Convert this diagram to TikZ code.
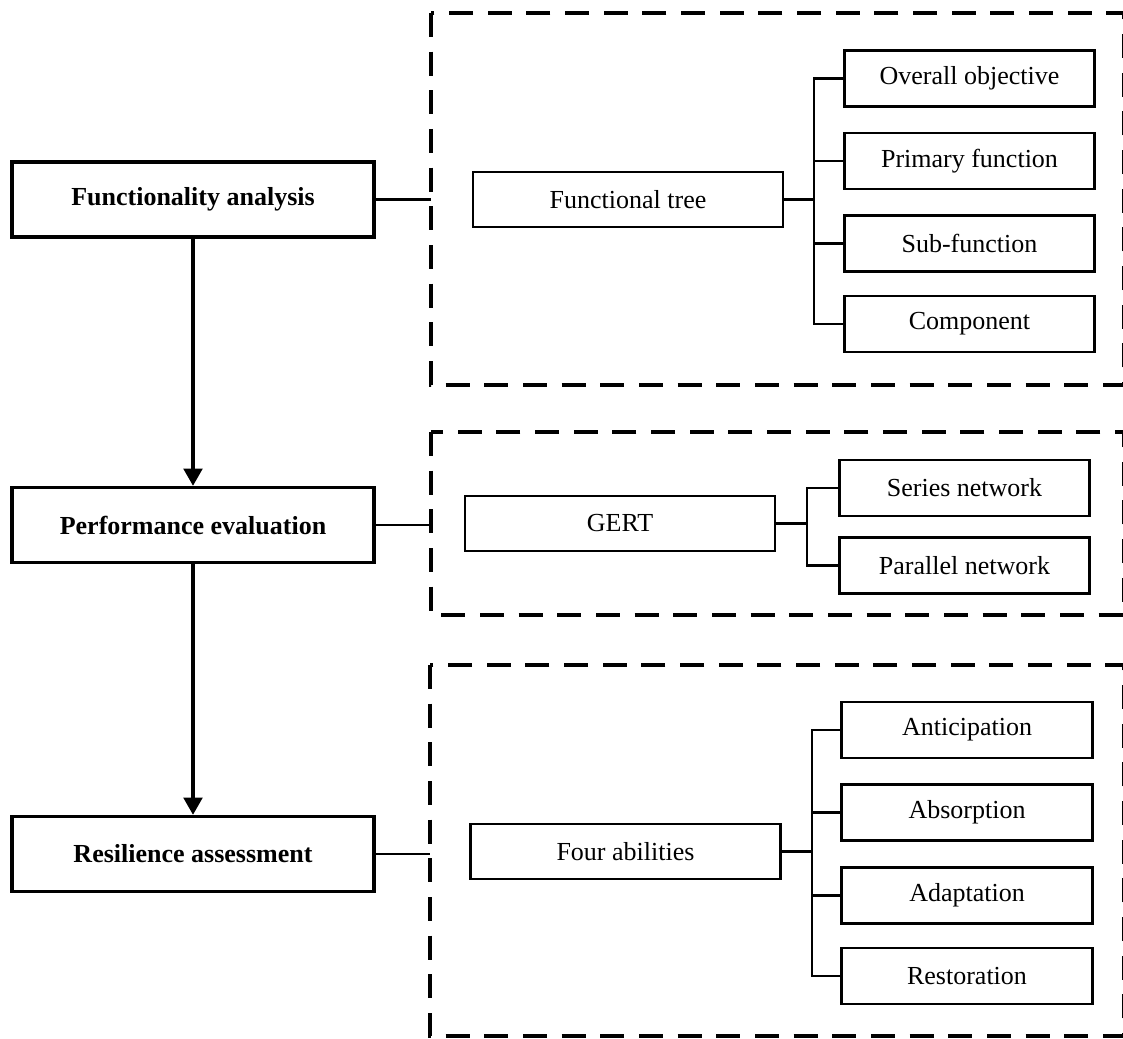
\documentclass[tikz,border=0pt]{standalone}
\usepackage{fontspec}
\setmainfont{Liberation Serif}
\usetikzlibrary{arrows.meta}
\begin{document}
\begin{tikzpicture}[x=0.75pt,y=-0.75pt,
  mainbox/.style={draw,line width=2.5pt,minimum width=271.5pt,minimum height=56.25pt,font=\fontsize{19.5}{22}\selectfont\bfseries,inner sep=0pt},
  midbox/.style={draw,line width=2.2pt,minimum width=232.5pt,minimum height=41.25pt,font=\fontsize{19.5}{22}\selectfont,inner sep=0pt},
  leafbox/.style={draw,line width=2.2pt,minimum width=188pt,minimum height=42pt,font=\fontsize{19.5}{22}\selectfont,inner sep=0pt},
  group/.style={draw,line width=2.4pt,dash pattern=on 18pt off 11pt},
  link/.style={line width=2.2pt},
  flow/.style={line width=2.6pt,-{Triangle[length=13pt,width=14pt]}}]
\useasboundingbox (0,0) rectangle (1123,1038);
\fill[white] (0,0) rectangle (1123,1038);

% dashed groups
\draw[group] (431,13) rectangle (1124,385);
\draw[group] (431,432) rectangle (1124,615);
\draw[group] (430,665) rectangle (1124,1036);

% main column
\node[mainbox] (fa) at (193,199.5) {Functionality analysis};
\node[mainbox] (pe) at (193,525) {Performance evaluation};
\node[mainbox] (ra) at (193,854) {Resilience assessment};
\draw[flow] (fa.south) -- (pe.north);
\draw[flow] (pe.south) -- (ra.north);

\coordinate (g1) at (431,199.5);
\coordinate (g2) at (431,525);
\coordinate (g3) at (430,854);
\draw[link] (fa.east) -- (g1);
\draw[link] (pe.east) -- (g2);
\draw[link] (ra.east) -- (g3);

% group 1
\node[midbox] (ft) at (628,199.5) {Functional tree};
\node[leafbox] (oo) at (969.5,78.5) {Overall objective};
\node[leafbox] (pf) at (969.5,161) {Primary function};
\node[leafbox] (sf) at (969.5,243.5) {Sub-function};
\node[leafbox] (co) at (969.5,324) {Component};
\coordinate (b1) at (814,199.5);
\draw[link] (ft.east) -- (b1);
\draw[link] (oo.west) -| (b1);
\draw[link] (pf.west) -| (b1);
\draw[link] (sf.west) -| (b1);
\draw[link] (co.west) -| (b1);

% group 2
\node[midbox] (ge) at (620,523.5) {GERT};
\node[leafbox] (sn) at (964.5,488) {Series network};
\node[leafbox] (pn) at (964.5,565.5) {Parallel network};
\coordinate (b2) at (807,523.5);
\draw[link] (ge.east) -- (b2);
\draw[link] (sn.west) -| (b2);
\draw[link] (pn.west) -| (b2);

% group 3
\node[midbox] (fo) at (625.5,851.5) {Four abilities};
\node[leafbox] (an) at (967,730) {Anticipation};
\node[leafbox] (ab) at (967,812.5) {Absorption};
\node[leafbox] (ad) at (967,895.5) {Adaptation};
\node[leafbox] (re) at (967,976) {Restoration};
\coordinate (b3) at (812,851.5);
\draw[link] (fo.east) -- (b3);
\draw[link] (an.west) -| (b3);
\draw[link] (ab.west) -| (b3);
\draw[link] (ad.west) -| (b3);
\draw[link] (re.west) -| (b3);
\end{tikzpicture}
\end{document}
